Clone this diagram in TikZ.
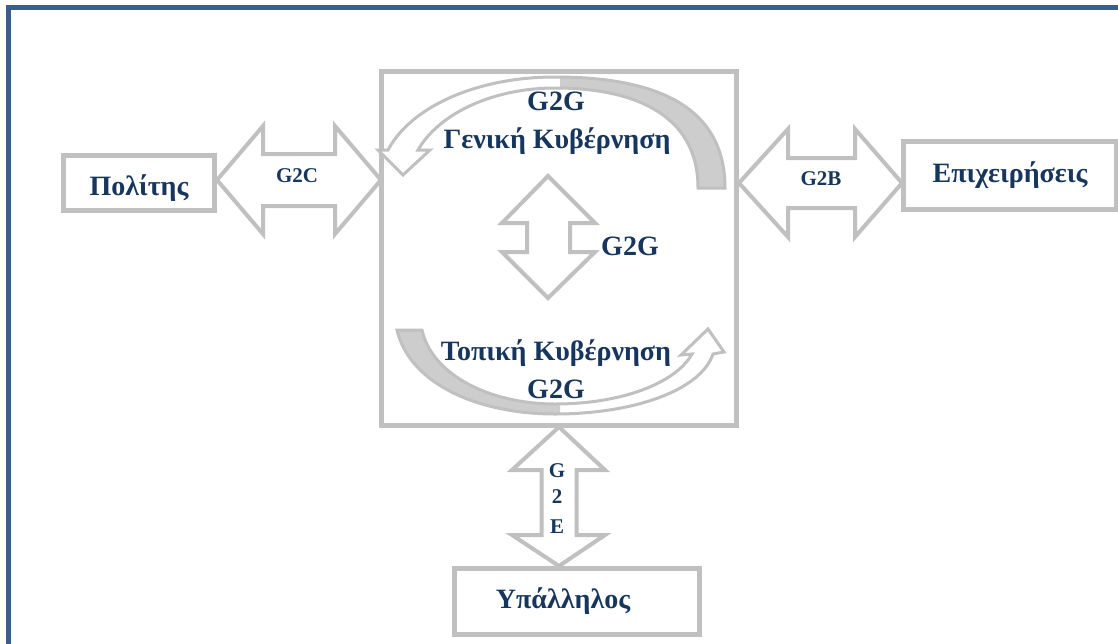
\documentclass[tikz,border=0pt]{standalone}
\usepackage{fontspec}
\setmainfont{Liberation Serif}
\definecolor{framecol}{RGB}{58,94,140}
\definecolor{linegray}{RGB}{192,192,192}
\definecolor{shadegray}{RGB}{205,205,205}
\definecolor{navy}{RGB}{23,54,93}
\begin{document}
\begin{tikzpicture}[x=1pt,y=-1pt,
  box/.style={draw=linegray,line width=5pt,fill=white},
  blockarrow/.style={draw=linegray,line width=4pt,fill=white,line join=miter},
  curvearrow/.style={draw=linegray,line width=3pt,line join=miter},
  bigtxt/.style={text=navy,font=\bfseries\fontsize{28}{30}\selectfont,inner sep=0pt,anchor=base},
  smalltxt/.style={text=navy,font=\bfseries\fontsize{21}{23}\selectfont,inner sep=0pt,anchor=base}]
\useasboundingbox (0,0) rectangle (1118,643);
\fill[white] (0,0) rectangle (1118,643);
% outer blue frame
\draw[framecol,line width=5pt] (8.5,660) -- (8.5,7.5) -- (1130,7.5);
% boxes
\draw[box] (381,71) rectangle (736,425);
\draw[box] (63,155) rectangle (214,210);
\draw[box] (903,141) rectangle (1116,209);
\draw[box] (454,568) rectangle (699,634);
% double block arrows
\draw[blockarrow] (217,180) -- (263,126) -- (263,154) -- (335,154) -- (335,126) -- (381,180)
  -- (335,234) -- (335,206) -- (263,206) -- (263,234) -- cycle;
\draw[blockarrow] (739,183) -- (788,129) -- (788,158) -- (855,158) -- (855,129) -- (902,183)
  -- (855,237) -- (855,208) -- (788,208) -- (788,237) -- cycle;
\draw[blockarrow] (548,176) -- (595,223) -- (570,223) -- (570,252) -- (595,252) -- (548,298)
  -- (502,252) -- (527,252) -- (527,223) -- (502,223) -- cycle;
\draw[blockarrow] (559,427) -- (605,470) -- (576.5,470) -- (576.5,535) -- (605,535) -- (559,566)
  -- (512,535) -- (541.5,535) -- (541.5,470) -- (512,470) -- cycle;
% curved arrows
\path[save path=\topband] (725,188) .. controls (725,100) and (645,77) .. (555,77)
  .. controls (475,77) and (410,108) .. (388,150)
  -- (378,150) -- (403,175) -- (430,150) -- (418,150)
  .. controls (440,112) and (495,88) .. (555,88)
  .. controls (630,88) and (698,112) .. (698,188) -- cycle;
\path[save path=\botband] (397,330) .. controls (410,385) and (480,414) .. (555,414)
  .. controls (630,414) and (700,392) .. (713,354)
  -- (724,352) -- (708,329) -- (681,355) -- (692,354)
  .. controls (675,384) and (620,404) .. (555,404)
  .. controls (490,404) and (432,375) .. (422,330) -- cycle;
\fill[white,use path=\topband];
\begin{scope}
  \clip (560,60) rectangle (740,200);
  \fill[shadegray,use path=\topband];
\end{scope}
\draw[curvearrow,use path=\topband];
\fill[white,use path=\botband];
\begin{scope}
  \clip (390,320) rectangle (560,420);
  \fill[shadegray,use path=\botband];
\end{scope}
\draw[curvearrow,use path=\botband];
% texts
\node[bigtxt] (g2gtop) at (556,110) {G2G};
\node[bigtxt] (geniki) at (557,148) {Γενική Κυβέρνηση};
\node[bigtxt] (topiki) at (556,360) {Τοπική Κυβέρνηση};
\node[bigtxt] (g2gbot) at (556,398) {G2G};
\node[bigtxt] (g2gmid) at (630,255) {G2G};
\node[bigtxt] (politis) at (139,195) {Πολίτης};
\node[bigtxt] (epix) at (1010,182) {Επιχειρήσεις};
\node[bigtxt] (ypal) at (563,608) {Υπάλληλος};
\node[smalltxt] (g2c) at (297,182) {G2C};
\node[smalltxt] (g2b) at (821,185) {G2B};
\node[smalltxt] (e1) at (557,477) {G};
\node[smalltxt] (e2) at (557,503) {2};
\node[smalltxt] (e3) at (557,533) {E};
\end{tikzpicture}
\end{document}
